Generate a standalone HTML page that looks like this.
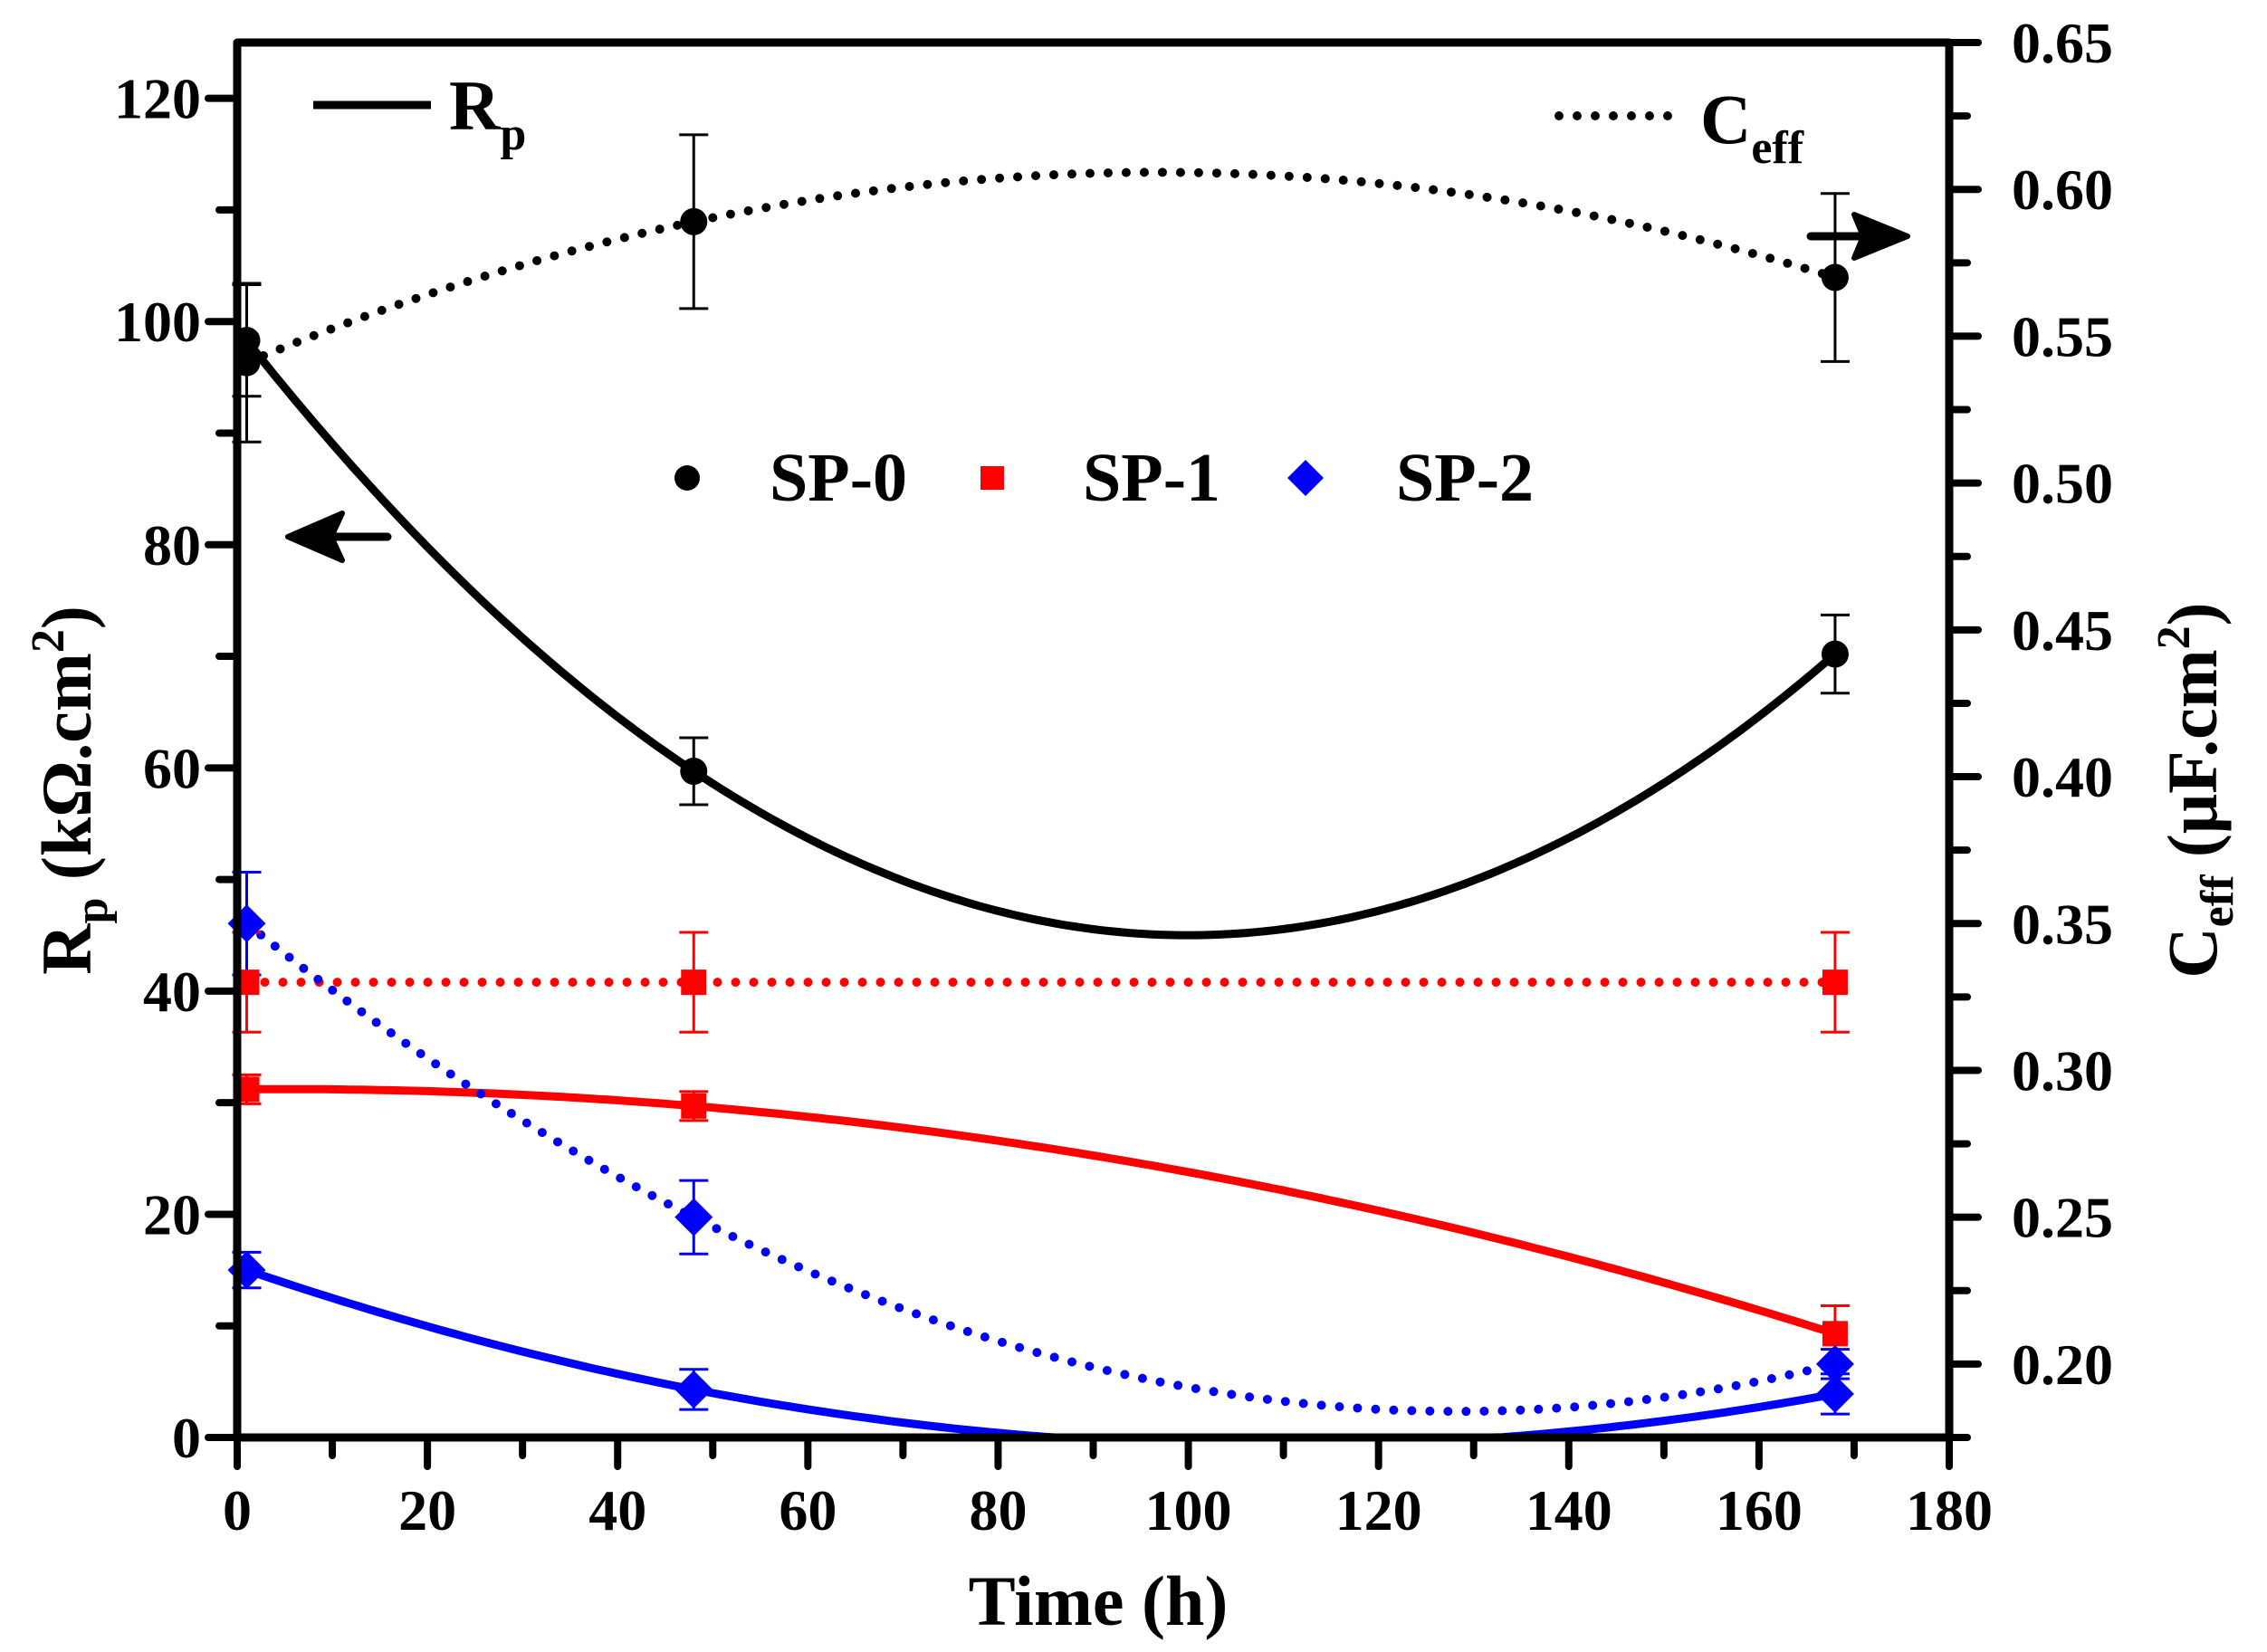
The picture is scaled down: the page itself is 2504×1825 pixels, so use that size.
<!DOCTYPE html>
<html><head><meta charset="utf-8"><style>
html,body{margin:0;padding:0;background:#fff;}
svg{display:block;font-family:"Liberation Serif",serif;font-weight:bold;}
</style></head><body>
<svg id="chart" width="2504" height="1825" viewBox="0 0 2504 1825" xmlns="http://www.w3.org/2000/svg">
<g id="grid"></g>
</svg>
<script>
const times = [1, 48, 168];
const rpSP0 = [98.3, 59.7, 70.2];
const rpSP0Err = [5.0, 3.0, 3.5];
const rpSP1 = [31.2, 29.7, 9.3];
const rpSP1Err = [1.3, 1.3, 2.5];
const rpSP2 = [15.0, 4.3, 3.9];
const rpSP2Err = [1.6, 1.8, 1.8];
const cSP0 = [0.541, 0.589, 0.570];
const cSP0Err = [0.027, 0.0296, 0.0286];
const cSP1 = [0.330, 0.330, 0.330];
const cSP1Err = [0.017, 0.017, 0.017];
const cSP2 = [0.350, 0.250, 0.200];
const cSP2Err = [0.0175, 0.0125, 0.005];
const xTicks = [0, 20, 40, 60, 80, 100, 120, 140, 160, 180];
const yLTicks = [0, 20, 40, 60, 80, 100, 120];
const yRTicks = ["0.20","0.25","0.30","0.35","0.40","0.45","0.50","0.55","0.60","0.65"];

const X0=262, X1=2153, YB=1588, YT=47;
const sx = t => X0 + (t-0)/(180-0)*(X1-X0);
const syL = v => YB - (v-0)/(125-0)*(YB-YT);
const syR = v => YB - (v-0.175)/(0.65-0.175)*(YB-YT);
const NS="http://www.w3.org/2000/svg";
const svg=document.getElementById('chart');
function mk(tag, attrs, parent){const e=document.createElementNS(NS,tag);for(const k in attrs)e.setAttribute(k,attrs[k]);(parent||svg).appendChild(e);return e;}

function quad(xs, ys){
  const [x0,x1,x2]=xs,[y0,y1,y2]=ys;
  return t => y0*(t-x1)*(t-x2)/((x0-x1)*(x0-x2)) + y1*(t-x0)*(t-x2)/((x1-x0)*(x1-x2)) + y2*(t-x0)*(t-x1)/((x2-x0)*(x2-x1));
}
function curve(ys, sy, color, dotted, minV, name){
  const f=quad(times, ys); let d='';
  for(let t=times[0]; t<=times[2]+0.001; t+=1){
    let v=f(t); if(v<minV) v=minV;
    d+=(d?'L':'M')+sx(t).toFixed(1)+','+sy(v).toFixed(1);
  }
  const p=mk('path',{d:d,fill:'none',stroke:color,'stroke-width':dotted?10:9,'stroke-linecap':'round','stroke-dasharray':dotted?'0 20':'none'});
  
  
}
function errbars(ys, errs, sy, color, name){
  ys.forEach((v,i)=>{
    const x=sx(times[i]), y1=sy(v-errs[i]), y2=sy(v+errs[i]);
    const g=mk('g',{stroke:color,'stroke-width':3});
    
    
    mk('line',{x1:x,y1:y1,x2:x,y2:y2},g);
    mk('line',{x1:x-16,y1:y1,x2:x+16,y2:y1},g);
    mk('line',{x1:x-16,y1:y2,x2:x+16,y2:y2},g);
  });
}
function marker(x,y,shape,color){
  if(shape==='c') return mk('circle',{cx:x,cy:y,r:15,fill:color});
  if(shape==='s') return mk('rect',{x:x-14,y:y-14,width:28,height:28,fill:color});
  return mk('path',{d:`M${x},${y-21}L${x+21},${y}L${x},${y+21}L${x-21},${y}Z`,fill:color});
}
function points(ys, sy, shape, color, name){
  ys.forEach((v,i)=>{
    const m=marker(sx(times[i]), sy(v), shape, color);
    
    
  });
}

curve(rpSP0, syL, '#000', false, 0, 'rp-sp0-fit');
curve(cSP0, syR, '#000', true, 0, 'ceff-sp0-fit');
curve(rpSP1, syL, '#f00', false, 0, 'rp-sp1-fit');
curve(cSP1, syR, '#f00', true, 0, 'ceff-sp1-fit');
curve(rpSP2, syL, '#00f', false, 0, 'rp-sp2-fit');
curve(cSP2, syR, '#00f', true, 0, 'ceff-sp2-fit');
errbars(rpSP0, rpSP0Err, syL, '#000', 'rp-sp0-errorbar');
errbars(cSP0, cSP0Err, syR, '#000', 'ceff-sp0-errorbar');
errbars(rpSP1, rpSP1Err, syL, '#f00', 'rp-sp1-errorbar');
errbars(cSP1, cSP1Err, syR, '#f00', 'ceff-sp1-errorbar');
errbars(rpSP2, rpSP2Err, syL, '#00f', 'rp-sp2-errorbar');
errbars(cSP2, cSP2Err, syR, '#00f', 'ceff-sp2-errorbar');
points(rpSP0, syL, 'c', '#000', 'rp-sp0-point');
points(cSP0, syR, 'c', '#000', 'ceff-sp0-point');
points(rpSP1, syL, 's', '#f00', 'rp-sp1-point');
points(cSP1, syR, 's', '#f00', 'ceff-sp1-point');
points(rpSP2, syL, 'd', '#00f', 'rp-sp2-point');
points(cSP2, syR, 'd', '#00f', 'ceff-sp2-point');

const frame=mk('path',{d:`M${X0},${YT}L${X1},${YT}L${X1},${YB}L${X0},${YB}Z`,fill:'none',stroke:'#000','stroke-width':9,'stroke-linejoin':'round'});



for(let t=0;t<=180;t+=10){
  const major=t%20===0;
  mk('line',{x1:sx(t),y1:YB,x2:sx(t),y2:YB+(major?32:20),stroke:'#000','stroke-width':8,'stroke-linecap':'round'});
}
xTicks.forEach(t=>{
  const e=mk('text',{x:sx(t),y:1690,'font-size':64,'text-anchor':'middle'}); e.textContent=t;
  
  
});
for(let v=0;v<=120;v+=10){
  const major=v%20===0;
  mk('line',{x1:X0,y1:syL(v),x2:X0-(major?32:20),y2:syL(v),stroke:'#000','stroke-width':8,'stroke-linecap':'round'});
}
yLTicks.forEach(v=>{
  const e=mk('text',{x:222,y:syL(v)+22,'font-size':64,'text-anchor':'end'}); e.textContent=v;
  
  
});
for(let i=0;i<=19;i++){
  const v=0.175+i*0.025; const major=i%2===1;
  mk('line',{x1:X1,y1:syR(v),x2:X1+(major?32:20),y2:syR(v),stroke:'#000','stroke-width':8,'stroke-linecap':'round'});
}
yRTicks.forEach(s=>{
  const e=mk('text',{x:2222,y:syR(parseFloat(s))+22,'font-size':64}); e.textContent=s;
  
  
});
</script>
<svg width="2504" height="1825" style="position:absolute;left:0;top:0;font-family:'Liberation Serif',serif;font-weight:bold" xmlns="http://www.w3.org/2000/svg">
<text x="1213" y="1795" font-size="78" text-anchor="middle">Time (h)</text>
<text transform="translate(100,873) rotate(-90)" font-size="78" text-anchor="middle">R<tspan font-size="52" dy="18">p</tspan><tspan dy="-18"> (kΩ.cm</tspan><tspan font-size="52" dy="-30">2</tspan><tspan dy="30">)</tspan></text>
<text transform="translate(2448,873) rotate(-90)" font-size="78" text-anchor="middle">C<tspan font-size="52" dy="18">eff</tspan><tspan dy="-18"> (μF.cm</tspan><tspan font-size="52" dy="-30">2</tspan><tspan dy="30">)</tspan></text>
<g>
<line x1="346" y1="116" x2="476" y2="116" stroke="#000" stroke-width="9"/>
<text x="496" y="143" font-size="78">R<tspan font-size="52" dy="22">p</tspan></text>
</g>
<g>
<line x1="1722" y1="128" x2="1858" y2="128" stroke="#000" stroke-width="10" stroke-linecap="round" stroke-dasharray="0 20"/>
<text x="1878" y="158" font-size="78">C<tspan font-size="52" dy="22">eff</tspan></text>
</g>
<g><circle cx="759" cy="528" r="14" fill="#000"/><text x="850" y="553" font-size="76">SP-0</text></g>
<g><rect x="1083" y="515" width="26" height="26" fill="#f00"/><text x="1196" y="553" font-size="76">SP-1</text></g>
<g><path d="M1442,508L1462,528L1442,548L1422,528Z" fill="#00f"/><text x="1542" y="553" font-size="76">SP-2</text></g>
<g>
<line x1="428" y1="593" x2="340" y2="593" stroke="#000" stroke-width="9" stroke-linecap="round"/>
<path d="M318,593L378,567L366,593L378,619Z" fill="#000" stroke="#000" stroke-width="6" stroke-linejoin="round"/>
</g>
<g>
<line x1="2000" y1="261" x2="2085" y2="261" stroke="#000" stroke-width="9" stroke-linecap="round"/>
<path d="M2107,261L2048,237L2058,261L2048,285Z" fill="#000" stroke="#000" stroke-width="6" stroke-linejoin="round"/>
</g>
</svg>
</body></html>
